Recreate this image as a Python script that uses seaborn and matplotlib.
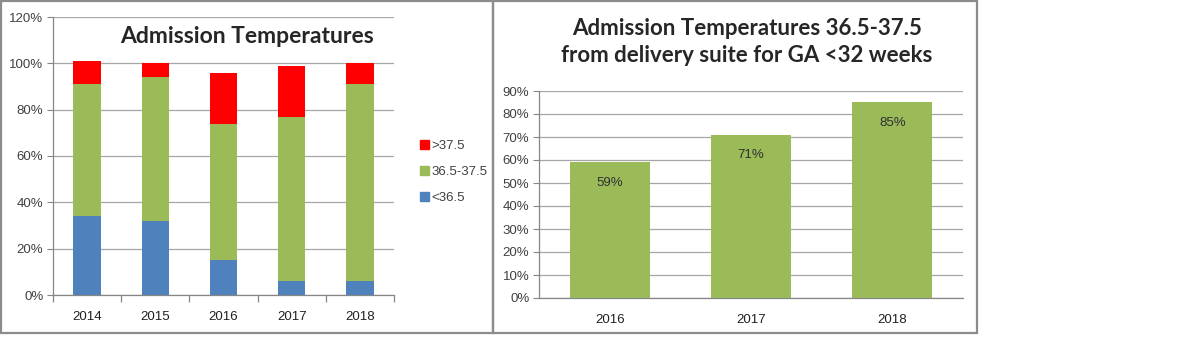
import seaborn as sns
import pandas as pd
import matplotlib.pyplot as plt
from matplotlib.patches import Patch, Rectangle
from matplotlib.ticker import PercentFormatter, FixedLocator

years = ['2014', '2015', '2016', '2017', '2018']
below = [34, 32, 15, 6, 6]          # <36.5
normal = [57, 62, 59, 71, 85]       # 36.5-37.5
above = [10, 6, 22, 22, 9]          # >37.5

ga_years = ['2016', '2017', '2018']
ga_normal = [59, 71, 85]

blue = '#4F81BD'
green = '#9BBB59'
red = '#FF0000'
grid_col = '#A6A6A6'

sns.set_style('white')
plt.rcParams['font.family'] = ['Liberation Sans', 'DejaVu Sans']

fig = plt.figure(figsize=(12, 3.51), dpi=100)
W, H = 1200, 351


def px_axes(x0, y0, x1, y1):
    return fig.add_axes([x0 / W, 1 - y1 / H, (x1 - x0) / W, (y1 - y0) / H])


def style_axes(ax):
    ax.set_axisbelow(True)
    ax.yaxis.grid(True, color=grid_col, linewidth=0.9)
    ax.xaxis.grid(False)
    for s in ['top', 'right']:
        ax.spines[s].set_visible(False)
    for s in ['left', 'bottom']:
        ax.spines[s].set_color('#868686')
        ax.spines[s].set_linewidth(0.9)
    ax.set_xlabel('')
    ax.set_ylabel('')
    ax.yaxis.set_major_formatter(PercentFormatter(100, decimals=0))
    ax.tick_params(axis='y', left=True, length=4, color='#868686', labelsize=9.5,
                   labelcolor='#404040', pad=3)
    ax.tick_params(axis='x', bottom=False, labelsize=9.5, labelcolor='#202020', pad=8)


# left: stacked bars
df = pd.DataFrame({'year': years, 'below': below, 'normal': normal, 'above': above})
ax1 = px_axes(53, 17, 394, 295)
bar_kw = dict(width=0.4, saturation=1, linewidth=0, ax=ax1)
sns.barplot(data=df, x='year', y='below', color=blue, **bar_kw)
sns.barplot(data=df, x='year', y='normal', bottom=df['below'], color=green, **bar_kw)
sns.barplot(data=df, x='year', y='above', bottom=df['below'] + df['normal'], color=red,
            **bar_kw)
ax1.set_ylim(0, 120)
ax1.set_yticks(range(0, 121, 20))
ax1.set_xlim(-0.5, 4.5)
style_axes(ax1)
ax1.xaxis.set_minor_locator(FixedLocator([-0.5, 0.5, 1.5, 2.5, 3.5, 4.5]))
ax1.tick_params(axis='x', which='minor', bottom=True, length=5, color='#868686', width=0.9)
ax1.text(0.57, 0.93, 'Admission Temperatures', transform=ax1.transAxes, ha='center',
         va='center', fontsize=16.5, fontweight='bold', family='Lato')

handles = [Patch(color=red, label='>37.5'), Patch(color=green, label='36.5-37.5'),
           Patch(color=blue, label='<36.5')]
fig.legend(handles=handles, loc='upper left', bbox_to_anchor=(408 / W, 1 - 128 / H),
           frameon=False, fontsize=9.5, handlelength=0.7, handleheight=0.7,
           handletextpad=0.2, labelspacing=1.05, labelcolor='#404040')

# right: single series
df2 = pd.DataFrame({'year': ga_years, 'pct': ga_normal})
ax2 = px_axes(539, 91, 963, 298)
sns.barplot(data=df2, x='year', y='pct', color=green, width=0.565, saturation=1,
            linewidth=0, ax=ax2)
ax2.set_ylim(0, 90)
ax2.set_yticks(range(0, 91, 10))
ax2.set_xlim(-0.5, 2.5)
style_axes(ax2)
ax2.bar_label(ax2.containers[0], labels=[f'{v}%' for v in ga_normal], padding=-19,
              fontsize=9.5, color='#303030')
fig.text(747 / W, 1 - 42 / H, 'Admission Temperatures 36.5-37.5\nfrom delivery suite for GA <32 weeks',
         ha='center', va='center', fontsize=16, fontweight='bold', family='Lato',
         linespacing=1.35)

# panel frames
for x0, x1 in [(1, 493), (493, 977)]:
    fig.add_artist(Rectangle((x0 / W, 1 - 333 / H), (x1 - x0) / W, 332 / H,
                             transform=fig.transFigure, fill=False,
                             edgecolor='#8C8C8C', linewidth=1.6))

fig.savefig('out.png', dpi=100)
